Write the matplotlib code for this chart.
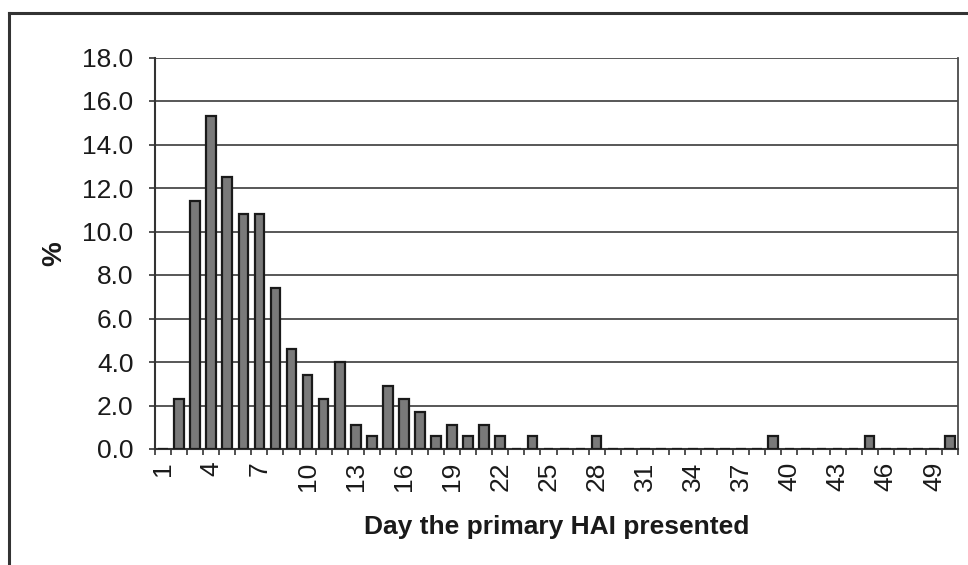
import matplotlib
matplotlib.use("Agg")
import matplotlib.pyplot as plt
from matplotlib.lines import Line2D
import numpy as np

plt.rcParams['font.family'] = ['Liberation Sans', 'DejaVu Sans']

# Day on which the primary HAI presented (1..50) and share of cases (%)
days = list(range(1, 51))
percent = [0.0, 2.3, 11.4, 15.3, 12.5, 10.8, 10.8, 7.4, 4.6, 3.4,
           2.3, 4.0, 1.1, 0.6, 2.9, 2.3, 1.7, 0.6, 1.1, 0.6,
           1.1, 0.6, 0.0, 0.6, 0.0, 0.0, 0.0, 0.6, 0.0, 0.0,
           0.0, 0.0, 0.0, 0.0, 0.0, 0.0, 0.0, 0.0, 0.6, 0.0,
           0.0, 0.0, 0.0, 0.0, 0.6, 0.0, 0.0, 0.0, 0.0, 0.6]
y_ticks = [0, 2, 4, 6, 8, 10, 12, 14, 16, 18]
x_label_days = list(range(1, 51, 3))

W, H = 968, 565
fig = plt.figure(figsize=(W / 100, H / 100), dpi=100)

# Outer chart frame (top and left edges)
fig.add_artist(Line2D([9 / W, 1.0], [1 - 13 / H, 1 - 13 / H],
                      color='#333333', lw=2.2, transform=fig.transFigure))
fig.add_artist(Line2D([9 / W, 9 / W], [1 - 13 / H, 0.0],
                      color='#333333', lw=2.2, transform=fig.transFigure))

left, right, top, bottom = 155, 958, 57.5, 449
ax = fig.add_axes([left / W, 1 - bottom / H, (right - left) / W, (bottom - top) / H])

ax.bar(days, percent, width=0.6, color='#7a7a7a', edgecolor='#1a1a1a',
       linewidth=1.6, zorder=3)

ax.set_xlim(0.5, 50.5)
ax.set_ylim(0, 18)
ax.set_yticks(y_ticks)
ax.set_yticklabels([f"{v:.1f}" for v in y_ticks], fontsize=19, color='#1a1a1a')
ax.yaxis.grid(True, color='#4a4a4a', lw=1.3, zorder=0)
ax.set_axisbelow(True)

# Category ticks sit between the days; labels on every third day
ax.set_xticks(np.arange(0.5, 51, 1.0))
ax.set_xticklabels([])
ax.tick_params(axis='x', which='major', length=4.5, width=1.2, color='#333333', direction='out')
ax.set_xticks(x_label_days, minor=True)
ax.set_xticklabels([str(d) for d in x_label_days], minor=True, rotation=90,
                   fontsize=19, color='#1a1a1a')
ax.tick_params(axis='x', which='minor', length=0, pad=9)
ax.tick_params(axis='y', length=4.5, width=1.2, color='#333333', pad=11)

for side in ['left', 'bottom']:
    ax.spines[side].set_color('#333333')
    ax.spines[side].set_linewidth(1.5)
ax.spines['right'].set_color('#4a4a4a')
ax.spines['right'].set_linewidth(1.3)
ax.spines['top'].set_visible(False)

ax.set_xlabel('Day the primary HAI presented', fontsize=19, fontweight='bold',
              color='#1a1a1a', labelpad=17)
ax.set_ylabel('%', fontsize=20, fontweight='bold', color='#1a1a1a', labelpad=11)

fig.savefig('out.png', dpi=100, facecolor='white')
